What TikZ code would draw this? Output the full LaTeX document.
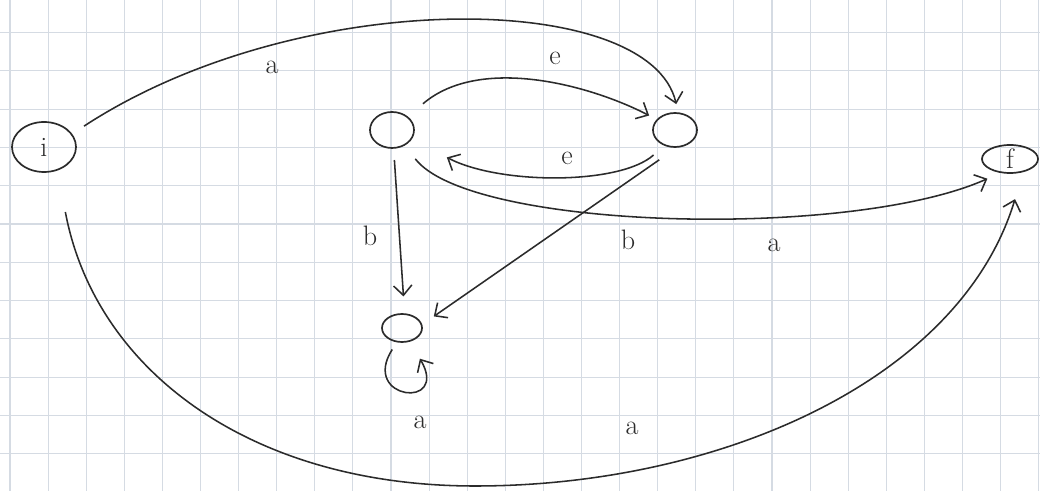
\documentclass[tikz,border=0pt]{standalone}
\usetikzlibrary{arrows.meta,shapes.geometric}
\definecolor{ink}{HTML}{2B2B2B}
\definecolor{gridc}{HTML}{D5DBE3}
\begin{document}
\begin{tikzpicture}[x=0.025cm,y=-0.025cm,
  state/.style={draw=ink, ellipse, line width=1.2pt, inner sep=0pt, text=ink, font=\fontsize{20}{24}\selectfont},
  edge/.style={draw=ink, line width=1.1pt, -{Straight Barb[length=7pt,width=13pt,line width=1.1pt]}},
  lab/.style={text=ink, font=\fontsize{20}{24}\selectfont, inner sep=0pt}]
\useasboundingbox (0,0) rectangle (1040,491);
\fill[white] (0,0) rectangle (1040,491);
\begin{scope}
\clip (0,0) rectangle (1040,491);
\foreach \k in {0,...,27} \draw[gridc, line width=0.8pt] ({10+38.1*\k},0) -- ({10+38.1*\k},491);
\foreach \k in {-1,...,12} \draw[gridc, line width=0.8pt] (0,{32.5+38.3*\k}) -- (1040,{32.5+38.3*\k});
\end{scope}

\node[state, minimum width=1.6cm, minimum height=1.25cm] (i) at (44,147) {i};
\node[state, minimum width=1.1cm, minimum height=0.9cm] (q1) at (392,130) {};
\node[state, minimum width=1.1cm, minimum height=0.85cm] (q2) at (675,130) {};
\node[state, minimum width=1.4cm, minimum height=0.7cm] (f) at (1010,159) {f};
\node[state, minimum width=1.0cm, minimum height=0.7cm] (q3) at (402,328) {};
\coordinate (low) at (475,486);

\draw[edge, shorten <=10pt, shorten >=6pt] (i.25) .. controls (300,-15) and (650,-10) .. (q2.80);
\draw[edge, shorten <=14pt, shorten >=6pt] (q1.40) .. controls (480,55) and (590,85) .. (q2.150);
\draw[edge, shorten <=10pt, shorten >=28pt] (q2.235) .. controls (620,185) and (500,185) .. (q1.-25);
\draw[edge, shorten <=12pt, shorten >=10pt] (q1.-50) .. controls (470,230) and (850,240) .. (f.235);
\draw[edge, shorten <=8pt, shorten >=12pt] (q1.-85) -- (q3.80);
\draw[edge, shorten <=15pt, shorten >=10pt] (q2.275) -- (q3.10);
\draw[edge, shorten <=6pt, shorten >=14pt] (q3.250) .. controls (360,400) and (450,410) .. (q3.300);
\draw[edge, shorten <=30pt, shorten >=20pt] (i.-60) .. controls (95,370) and (250,486) .. (low)
  .. controls (720,486) and (960,380) .. (f.-45);

\node[lab] (l1) at (272,67) {a};
\node[lab] (l2) at (555,58) {e};
\node[lab] (l3) at (567,158) {e};
\node[lab] (l4) at (370,236) {b};
\node[lab] (l5) at (628,240) {b};
\node[lab] (l6) at (774,245) {a};
\node[lab] (l7) at (420,422) {a};
\node[lab] (l8) at (632,428) {a};
\end{tikzpicture}
\end{document}
